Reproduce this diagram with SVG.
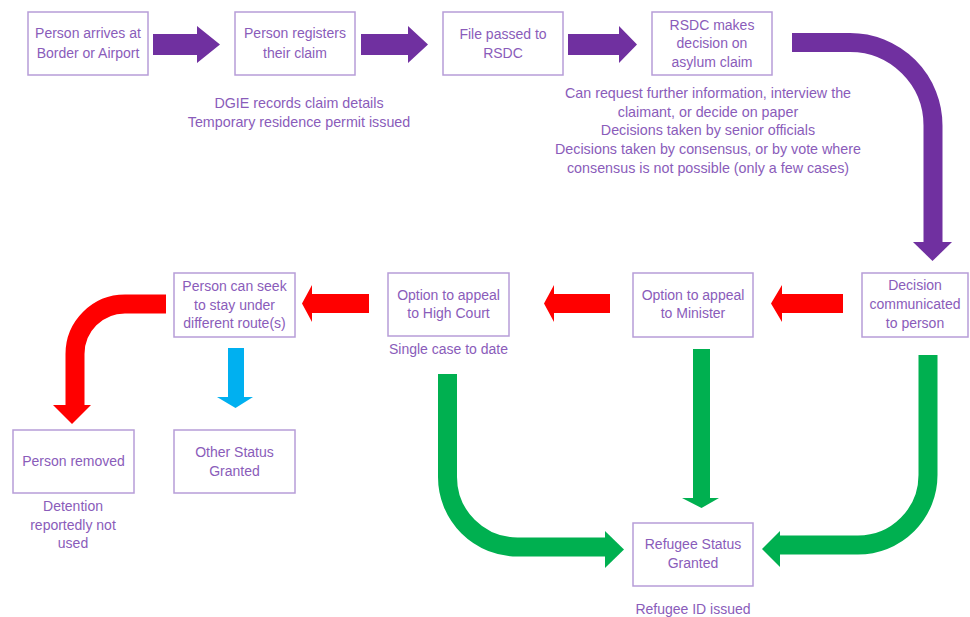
<svg xmlns="http://www.w3.org/2000/svg" width="970" height="617" viewBox="0 0 970 617">
<style>
  .box { fill: #ffffff; stroke: #b79dd8; stroke-width: 1.5; }
  text { font-family: "Liberation Sans", Arial, sans-serif; font-size: 14px; fill: #8a5cba; text-anchor: middle; }
  .note { font-size: 14.3px; }
  .purple { fill: #7030a0; }
  .red { fill: #ff0000; }
  .green { fill: #00b050; }
  .blue { fill: #00b0f0; }
  .sp { fill: none; stroke: #7030a0; stroke-width: 19; }
  .sr { fill: none; stroke: #ff0000; stroke-width: 19; }
  .sg { fill: none; stroke: #00b050; stroke-width: 19; }
</style>
<rect width="970" height="617" fill="#ffffff"/>

<g id="connectors">
  <!-- purple straight arrows -->
  <polygon class="purple" points="153,34 197,34 197,26 220,44.5 197,63 197,55 153,55"/>
  <polygon class="purple" points="361,34 408,34 408,26 428,44.5 408,63 408,55 361,55"/>
  <polygon class="purple" points="568,34 619,34 619,26 637,44.5 619,63 619,55 568,55"/>
  <!-- purple curved arrow -->
  <path class="sp" d="M792,42.5 H850 A83,83 0 0 1 933,125.5 V243"/>
  <polygon class="purple" points="913,242 952,242 932.5,261"/>
  <!-- red left arrows -->
  <polygon class="red" points="843,294 782,294 782,285 771,303.5 782,322 782,313 843,313"/>
  <polygon class="red" points="610,294 554,294 554,285 544,303.5 554,322 554,313 610,313"/>
  <polygon class="red" points="369,294 312,294 312,285 302,303.5 312,322 312,313 369,313"/>
  <!-- red curved arrow -->
  <path class="sr" d="M166,304 H125 A50,50 0 0 0 75,354 V406"/>
  <polygon class="red" points="53,405 91,405 72,424"/>
  <!-- blue arrow -->
  <polygon class="blue" points="228,348 244,348 244,397 253,397 235.5,408 217,397 228,397"/>
  <!-- green vertical from Minister -->
  <polygon class="green" points="693,349 710,349 710,498 719,498 701.5,508 682,498 693,498"/>
  <!-- green curved from High Court -->
  <path class="sg" d="M447.5,374 V477 A70,70 0 0 0 517.5,547 H606"/>
  <polygon class="green" points="605,531 624,549.5 605,568"/>
  <!-- green curved from Decision -->
  <path class="sg" d="M928,355 V475 A70,70 0 0 1 858,545 H779"/>
  <polygon class="green" points="780,531 762,549 780,567"/>
</g>

<g id="n1">
  <rect class="box" x="28" y="12" width="120" height="63"/>
  <text x="88" y="38">Person arrives at</text>
  <text x="88" y="58">Border or Airport</text>
</g>
<g id="n2">
  <rect class="box" x="235" y="12" width="120" height="63"/>
  <text x="295" y="38">Person registers</text>
  <text x="295" y="58">their claim</text>
  <text class="note" x="299" y="108">DGIE records claim details</text>
  <text class="note" x="299" y="127">Temporary residence permit issued</text>
</g>
<g id="n3">
  <rect class="box" x="443" y="12" width="120" height="63"/>
  <text x="503" y="39">File passed to</text>
  <text x="503" y="58">RSDC</text>
</g>
<g id="n4">
  <rect class="box" x="652" y="12" width="120" height="63"/>
  <text x="712" y="30">RSDC makes</text>
  <text x="712" y="48">decision on</text>
  <text x="712" y="67">asylum claim</text>
  <text class="note" x="708" y="98">Can request further information, interview the</text>
  <text class="note" x="708" y="117">claimant, or decide on paper</text>
  <text class="note" x="708" y="135">Decisions taken by senior officials</text>
  <text class="note" x="708" y="154">Decisions taken by consensus, or by vote where</text>
  <text class="note" x="708" y="173">consensus is not possible (only a few cases)</text>
</g>
<g id="n5">
  <rect class="box" x="862" y="273" width="106" height="64"/>
  <text x="915" y="290">Decision</text>
  <text x="915" y="309">communicated</text>
  <text x="915" y="328">to person</text>
</g>
<g id="n6">
  <rect class="box" x="633" y="273" width="120" height="64"/>
  <text x="693" y="300">Option to appeal</text>
  <text x="693" y="318">to Minister</text>
</g>
<g id="n7">
  <rect class="box" x="388" y="273" width="121" height="63"/>
  <text x="448.5" y="300">Option to appeal</text>
  <text x="448.5" y="318">to High Court</text>
  <text x="448.5" y="354">Single case to date</text>
</g>
<g id="n8">
  <rect class="box" x="174" y="273" width="121" height="64"/>
  <text x="234.5" y="291">Person can seek</text>
  <text x="234.5" y="310">to stay under</text>
  <text x="234.5" y="328">different route(s)</text>
</g>
<g id="n9">
  <rect class="box" x="13" y="430" width="121" height="63"/>
  <text x="73.5" y="466">Person removed</text>
  <text x="73" y="511">Detention</text>
  <text x="73" y="530">reportedly not</text>
  <text x="73" y="548">used</text>
</g>
<g id="n10">
  <rect class="box" x="174" y="430" width="121" height="63"/>
  <text x="234.5" y="457">Other Status</text>
  <text x="234.5" y="476">Granted</text>
</g>
<g id="n11">
  <rect class="box" x="633" y="523" width="120" height="63"/>
  <text x="693" y="549">Refugee Status</text>
  <text x="693" y="568">Granted</text>
  <text x="693" y="614">Refugee ID issued</text>
</g>
</svg>
